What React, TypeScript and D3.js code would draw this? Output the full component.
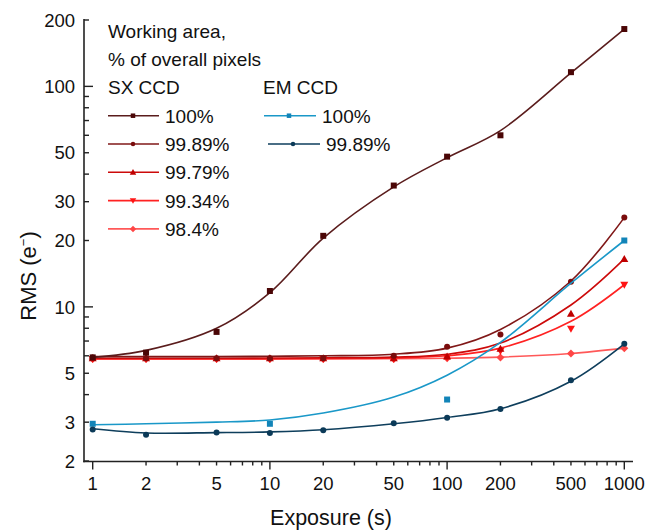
import React from "react";
import * as d3 from "d3";

// ---------- data ----------
const exposures = [1, 2, 5, 10, 20, 50, 100, 200, 500, 1000];

const sx100 = [5.9, 6.2, 7.7, 11.8, 21, 35.5, 48, 60, 116, 182];
const sx100Fit = [5.9, 6.35, 8.0, 11.6, 20.5, 35, 47.5, 63, 115, 182];

const sx9989 = [5.9, 5.85, 5.85, 5.85, 5.85, 6.0, 6.6, 7.5, 13, 25.4];
const sx9989Fit = [5.95, 5.95, 5.95, 5.97, 6.0, 6.1, 6.5, 7.9, 13.1, 25.4];

const sx9979 = [5.85, 5.85, 5.85, 5.85, 5.85, 5.85, 5.95, 6.45, 9.3, 16.5];
const sx9979Fit = [5.85, 5.85, 5.85, 5.86, 5.88, 5.92, 6.1, 6.85, 10.2, 16.5];

const sx9934 = [5.8, 5.8, 5.8, 5.8, 5.8, 5.8, 5.9, 6.3, 7.95, 12.6];
const sx9934Fit = [5.8, 5.8, 5.8, 5.81, 5.83, 5.87, 6.0, 6.5, 8.6, 12.6];

const sx984 = [5.8, 5.8, 5.8, 5.8, 5.8, 5.8, 5.85, 5.9, 6.15, 6.5];
const sx984Fit = [5.8, 5.8, 5.8, 5.8, 5.81, 5.82, 5.85, 5.92, 6.15, 6.5];

const em100Exposures = [1, 10, 100, 1000];
const em100 = [2.95, 2.95, 3.8, 20];
const em100Fit = [2.92, 2.95, 3.0, 3.07, 3.3, 3.9, 4.9, 6.9, 12.8, 20];

const em9989 = [2.78, 2.63, 2.69, 2.68, 2.76, 2.97, 3.14, 3.44, 4.65, 6.8];
const em9989Fit = [2.8, 2.68, 2.69, 2.71, 2.77, 2.95, 3.15, 3.45, 4.6, 6.8];

const xTicks = [1, 2, 5, 10, 20, 50, 100, 200, 500, 1000];
const yTicks = [2, 3, 5, 10, 20, 30, 50, 100, 200];

const legendTitle = ["Working area,", "% of overall pixels"];
const sxLabels = ["100%", "99.89%", "99.79%", "99.34%", "98.4%"];
const emLabels = ["100%", "99.89%"];

// ---------- layout ----------
const W = 659;
const H = 530;
const font = "'Liberation Sans', Arial, Helvetica, sans-serif";

const x = d3.scaleLog().domain([1, 1000]).range([92.7, 624.3]);
const y = d3.scaleLog().domain([2, 200]).range([461, 20]);

type Sym = "square" | "circle" | "tri" | "tridown" | "diamond";

interface Series {
  xs: number[];
  ys: number[];
  fit: number[];
  line: string;
  marker: string;
  sym: Sym;
  size: number;
}

const sxSeries: Series[] = [
  { xs: exposures, ys: sx100, fit: sx100Fit, line: "#5a1c1c", marker: "#4a0606", sym: "square", size: 6 },
  { xs: exposures, ys: sx9989, fit: sx9989Fit, line: "#801818", marker: "#7a0c0c", sym: "circle", size: 6 },
  { xs: exposures, ys: sx9979, fit: sx9979Fit, line: "#cc0a0a", marker: "#c00000", sym: "tri", size: 8 },
  { xs: exposures, ys: sx9934, fit: sx9934Fit, line: "#ff2222", marker: "#ff1414", sym: "tridown", size: 8 },
  { xs: exposures, ys: sx984, fit: sx984Fit, line: "#ff5858", marker: "#ff4646", sym: "diamond", size: 8 },
];

const emSeries: Series[] = [
  { xs: em100Exposures, ys: em100, fit: em100Fit, line: "#1a98c8", marker: "#1284b8", sym: "square", size: 6 },
  { xs: exposures, ys: em9989, fit: em9989Fit, line: "#0e3e5c", marker: "#0b3a58", sym: "circle", size: 6 },
];

function symPath(sym: Sym, s: number): string {
  const h = s / 2;
  switch (sym) {
    case "square":
      return `M${-h},${-h}H${h}V${h}H${-h}Z`;
    case "circle":
      return `M${h},0A${h},${h} 0 1,1 ${-h},0A${h},${h} 0 1,1 ${h},0Z`;
    case "tri":
      return `M0,${-h}L${h},${h * 0.75}L${-h},${h * 0.75}Z`;
    case "tridown":
      return `M0,${h}L${h},${-h * 0.75}L${-h},${-h * 0.75}Z`;
    case "diamond":
      return `M0,${-h}L${h},0L0,${h}L${-h},0Z`;
  }
}

const lineGen = d3
  .line<[number, number]>()
  .x((d) => x(d[0]))
  .y((d) => y(d[1]))
  .curve(d3.curveCatmullRom.alpha(0.5));

function minorTicks(lo: number, hi: number): number[] {
  const out: number[] = [];
  for (let p = Math.floor(Math.log10(lo)); p <= Math.ceil(Math.log10(hi)); p++) {
    for (let m = 1; m <= 9; m++) {
      const v = m * Math.pow(10, p);
      if (v >= lo - 1e-9 && v <= hi + 1e-9) out.push(v);
    }
  }
  return out;
}

function SeriesDraw({ s }: { s: Series }) {
  const fitPts: [number, number][] = exposures.map((e, i) => [e, s.fit[i]]);
  return (
    <g>
      <path d={lineGen(fitPts) || ""} fill="none" stroke={s.line} strokeWidth={1.6} />
      {s.xs.map((e, i) => (
        <path
          key={i}
          d={symPath(s.sym, s.size)}
          transform={`translate(${x(e)},${y(s.ys[i])})`}
          fill={s.marker}
        />
      ))}
    </g>
  );
}

export default function App() {
  const axisX0 = 84;
  const axisX1 = 633;
  const axisY = 461.5;
  const xMinor = minorTicks(1, 1000);
  const yMinor = minorTicks(2, 200);
  const isMajor = (v: number) => Math.abs(Math.log10(v) - Math.round(Math.log10(v))) < 1e-9;

  const legendX = 108;
  const rowStep = 28.3;
  const rowBase0 = 122.7;

  return (
    <svg
      width={W}
      height={H}
      style={{ position: "absolute", left: 0, top: 0, background: "#fff" }}
      fontFamily={font}
    >
      <rect width={W} height={H} fill="#fff" />
      {/* series */}
      {sxSeries
        .slice()
        .reverse()
        .map((s, i) => (
          <SeriesDraw key={"sx" + i} s={s} />
        ))}
      {emSeries.map((s, i) => (
        <SeriesDraw key={"em" + i} s={s} />
      ))}

      {/* y axis */}
      <line x1={axisX0} x2={axisX0} y1={19} y2={axisY + 0.75} stroke="#222" strokeWidth={1.6} />
      {yMinor.map((v, i) => (
        <line
          key={"ym" + i}
          x1={axisX0}
          x2={axisX0 + (isMajor(v) ? 9 : 5)}
          y1={y(v)}
          y2={y(v)}
          stroke="#222"
          strokeWidth={1.4}
        />
      ))}
      {yTicks.map((v, i) => (
        <text
          key={"yl" + i}
          x={75}
          y={y(v)}
          dy="0.36em"
          textAnchor="end"
          fontSize={18.5}
          fill="#111"
        >
          {v}
        </text>
      ))}

      {/* x axis */}
      <line x1={axisX0 - 0.75} x2={axisX1} y1={axisY} y2={axisY} stroke="#222" strokeWidth={1.6} />
      {xMinor.map((v, i) => (
        <line
          key={"xm" + i}
          x1={x(v)}
          x2={x(v)}
          y1={axisY}
          y2={axisY + (isMajor(v) ? 8 : 4)}
          stroke="#222"
          strokeWidth={1.4}
        />
      ))}
      {xTicks.map((v, i) => (
        <text key={"xl" + i} x={x(v)} y={490} textAnchor="middle" fontSize={18.5} fill="#111">
          {v}
        </text>
      ))}

      {/* axis titles */}
      <text x={331} y={525} textAnchor="middle" fontSize={21.5} fill="#111">
        Exposure (s)
      </text>
      <text
        transform={`translate(36,276) rotate(-90)`}
        textAnchor="middle"
        fontSize={22}
        fill="#111"
      >
        RMS (e
        <tspan fontSize={13} dy={-8}>
          −
        </tspan>
        <tspan dy={8}>)</tspan>
      </text>

      {/* legend */}
      <g fontSize={19} fill="#111">
        <text x={legendX} y={38.3}>
          {legendTitle[0]}
        </text>
        <text x={legendX} y={66}>
          {legendTitle[1]}
        </text>
        <text x={legendX} y={94}>
          SX CCD
        </text>
        <text x={263} y={94}>
          EM CCD
        </text>
        {sxSeries.map((s, i) => {
          const b = rowBase0 + i * rowStep;
          const ly = b - 7;
          return (
            <g key={"lg" + i}>
              <line x1={108} x2={159} y1={ly} y2={ly} stroke={s.line} strokeWidth={1.6} />
              <path d={symPath(s.sym, s.size - 1.5)} transform={`translate(133,${ly})`} fill={s.marker} />
              <text x={165} y={b}>
                {sxLabels[i]}
              </text>
            </g>
          );
        })}
        {emSeries.map((s, i) => {
          const b = rowBase0 + i * rowStep;
          const ly = b - 7;
          const x0 = i === 0 ? 264 : 268;
          return (
            <g key={"le" + i}>
              <line x1={x0} x2={x0 + 52} y1={ly} y2={ly} stroke={s.line} strokeWidth={1.6} />
              <path d={symPath(s.sym, s.size - 1.5)} transform={`translate(${x0 + 25},${ly})`} fill={s.marker} />
              <text x={x0 + 58} y={b}>
                {emLabels[i]}
              </text>
            </g>
          );
        })}
      </g>
    </svg>
  );
}
